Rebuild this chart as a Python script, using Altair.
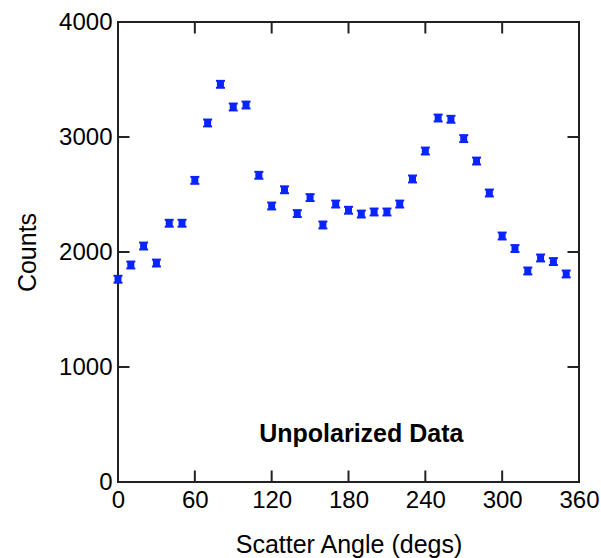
import altair as alt
import pandas as pd

angles = [0, 10, 20, 30, 40, 50, 60, 70, 80, 90, 100, 110, 120, 130, 140, 150, 160, 170,
          180, 190, 200, 210, 220, 230, 240, 250, 260, 270, 280, 290, 300, 310, 320, 330, 340, 350]
counts = [1763, 1887, 2052, 1904, 2250, 2250, 2623, 3122, 3458, 3261, 3278, 2667, 2400, 2541, 2334, 2473,
          2235, 2417, 2363, 2330, 2348, 2348, 2417, 2635, 2878, 3165, 3154, 2986, 2791, 2513,
          2139, 2030, 1835, 1948, 1917, 1809]
errors = [30] * 36

x_ticks = [0, 60, 120, 180, 240, 300, 360]
y_ticks = [0, 1000, 2000, 3000, 4000]
x_inner = [60, 120, 180, 240, 300]
y_inner = [1000, 2000, 3000]

label_text = ["Unpolarized Data"]
label_x = [190]
label_y = [420]

W, H = 461, 460
FONT = "Liberation Sans"
BLUE = "#0a24ff"
FRAME = "#222222"

df = pd.DataFrame({"angle": angles, "counts": counts, "err": errors})
df["lo"] = df["counts"] - df["err"]
df["hi"] = df["counts"] + df["err"]

xs = alt.Scale(domain=[0, 360], nice=False, zero=False)
ys = alt.Scale(domain=[0, 4000], nice=False, zero=False)

xaxis = alt.Axis(values=x_ticks, title="Scatter Angle (degs)", ticks=False, domain=False, grid=False,
                 labelFlush=False, labelPadding=6, labelFontSize=24, labelFont=FONT, labelColor="#000",
                 titleFontSize=25, titleFont=FONT, titleFontWeight="normal", titleColor="#000",
                 titlePadding=20, format="d")
yaxis = alt.Axis(values=y_ticks, title="Counts", ticks=False, domain=False, grid=False,
                 labelFlush=False, labelPadding=6, labelFontSize=24, labelFont=FONT, labelColor="#000",
                 titleFontSize=25, titleFont=FONT, titleFontWeight="normal", titleColor="#000",
                 titlePadding=18, format="d")

base = alt.Chart(df)

bars = base.mark_rule(color=BLUE, strokeWidth=2).encode(
    x=alt.X("angle:Q", scale=xs, axis=xaxis),
    y=alt.Y("lo:Q", scale=ys, axis=yaxis),
    y2="hi:Q",
)
cap_lo = base.mark_tick(color=BLUE, orient="horizontal", size=9, thickness=2, opacity=1).encode(
    x=alt.X("angle:Q", scale=xs), y=alt.Y("lo:Q", scale=ys))
cap_hi = base.mark_tick(color=BLUE, orient="horizontal", size=9, thickness=2, opacity=1).encode(
    x=alt.X("angle:Q", scale=xs), y=alt.Y("hi:Q", scale=ys))
pts = base.mark_square(color=BLUE, size=49, filled=True, opacity=1).encode(
    x=alt.X("angle:Q", scale=xs), y=alt.Y("counts:Q", scale=ys))

xt = alt.Chart(pd.DataFrame({"v": x_inner}))
bot_ticks = xt.mark_rule(color=FRAME, strokeWidth=2).encode(
    x=alt.X("v:Q", scale=xs), y=alt.value(H), y2=alt.value(H - 11.5))
top_ticks = xt.mark_rule(color=FRAME, strokeWidth=2).encode(
    x=alt.X("v:Q", scale=xs), y=alt.value(0), y2=alt.value(11.5))
yt = alt.Chart(pd.DataFrame({"v": y_inner}))
left_ticks = yt.mark_rule(color=FRAME, strokeWidth=2).encode(
    y=alt.Y("v:Q", scale=ys), x=alt.value(0), x2=alt.value(11.5))
right_ticks = yt.mark_rule(color=FRAME, strokeWidth=2).encode(
    y=alt.Y("v:Q", scale=ys), x=alt.value(W), x2=alt.value(W - 11.5))

label = alt.Chart(pd.DataFrame({"t": label_text, "x": label_x, "y": label_y})).mark_text(
    font=FONT, fontSize=25, fontWeight="bold", color="#000", align="center", baseline="middle"
).encode(x=alt.X("x:Q", scale=xs), y=alt.Y("y:Q", scale=ys), text="t:N")

chart = alt.layer(bot_ticks, top_ticks, left_ticks, right_ticks, bars, cap_lo, cap_hi, pts, label).properties(
    width=W, height=H,
    autosize=alt.AutoSizeParams(type="none"),
    padding={"left": 118, "top": 22, "right": 22, "bottom": 76},
    background="white",
).configure_view(stroke=FRAME, strokeWidth=2)

chart.save("out.html", embed_options={"renderer": "svg", "actions": False})
